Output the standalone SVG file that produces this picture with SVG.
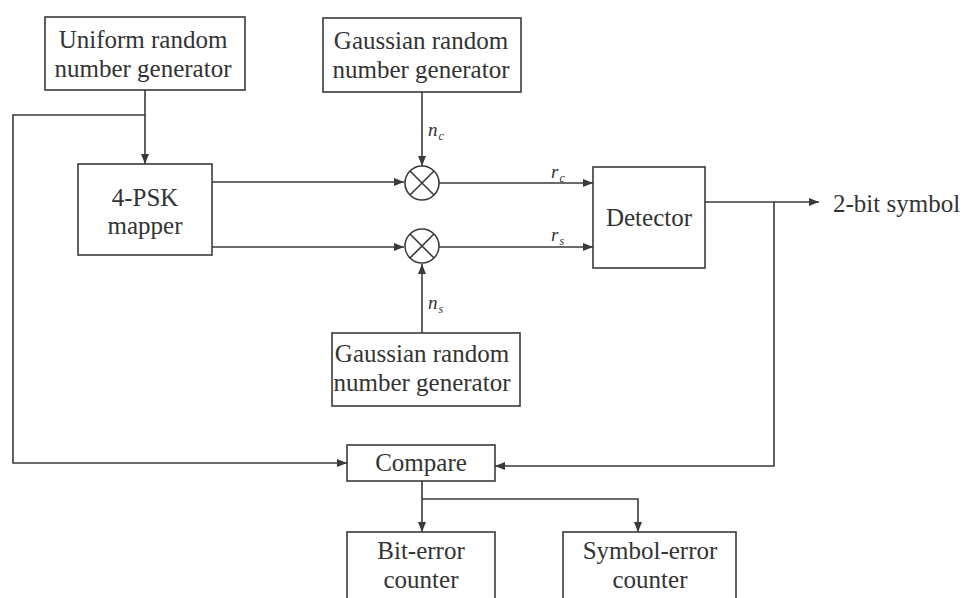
<svg xmlns="http://www.w3.org/2000/svg" width="965" height="598" viewBox="0 0 965 598">
  <style>
    .box { fill: #fff; stroke: #3a3a3a; stroke-width: 1.6; }
    .lbl { font-family: "Liberation Serif", "Times New Roman", serif; font-size: 25px; fill: #333; text-anchor: middle; }
    .sym { font-family: "Liberation Serif", "Times New Roman", serif; font-size: 19px; font-style: italic; fill: #333; }
    .sub { font-size: 12px; }
    .wire { fill: none; stroke: #3a3a3a; stroke-width: 1.6; }
    .arr { marker-end: url(#head); }
  </style>
  <defs>
    <marker id="head" viewBox="0 0 10 8" refX="10" refY="4" markerWidth="10" markerHeight="8" markerUnits="userSpaceOnUse" orient="auto">
      <path d="M0,0 L10,4 L0,8 z" fill="#3a3a3a"/>
    </marker>
  </defs>

  <rect width="965" height="598" fill="#fff"/>

  <!-- connectors -->
  <g id="connectors">
    <!-- uniform generator to mapper, with tap to compare -->
    <path class="wire arr" d="M145,90 V164"/>
    <path class="wire arr" d="M145,115 H13 V463 H347"/>
    <!-- mapper outputs to mixers -->
    <path class="wire arr" d="M212,182 H404"/>
    <path class="wire arr" d="M207,247 H404"/>
    <!-- noise inputs -->
    <path class="wire arr" d="M422,92 V166"/>
    <path class="wire arr" d="M422,333 V264"/>
    <!-- mixer outputs to detector -->
    <path class="wire arr" d="M439,183 H593"/>
    <path class="wire arr" d="M439,247 H593"/>
    <!-- detector output and feedback to compare -->
    <path class="wire arr" d="M705,202 H819"/>
    <path class="wire arr" d="M774,202 V466 H495"/>
    <!-- compare to counters -->
    <path class="wire arr" d="M422,481 V532"/>
    <path class="wire arr" d="M422,499 H638 V532"/>
  </g>

  <!-- signal labels -->
  <g id="signal-labels">
    <text class="sym" x="428" y="136">n<tspan class="sub" dx="1" dy="4">c</tspan></text>
    <text class="sym" x="428" y="309">n<tspan class="sub" dx="1" dy="4">s</tspan></text>
    <text class="sym" x="551" y="178">r<tspan class="sub" dx="1" dy="4">c</tspan></text>
    <text class="sym" x="551" y="241">r<tspan class="sub" dx="1" dy="4">s</tspan></text>
  </g>

  <g id="uniform-rng">
    <rect class="box" x="45" y="17" width="200" height="73"/>
    <text class="lbl" x="143" y="48">Uniform random</text>
    <text class="lbl" x="143" y="77">number generator</text>
  </g>

  <g id="gaussian-rng-c">
    <rect class="box" x="323" y="18" width="198" height="74"/>
    <text class="lbl" x="421" y="49">Gaussian random</text>
    <text class="lbl" x="421" y="78">number generator</text>
  </g>

  <g id="psk-mapper">
    <rect class="box" x="78" y="164" width="134" height="91"/>
    <text class="lbl" x="145" y="206">4-PSK</text>
    <text class="lbl" x="145" y="234">mapper</text>
  </g>

  <g id="mixer-c">
    <circle class="box" cx="422" cy="183" r="17"/>
    <path class="wire" d="M410,171 L434,195 M434,171 L410,195"/>
  </g>

  <g id="mixer-s">
    <circle class="box" cx="422" cy="246" r="17"/>
    <path class="wire" d="M410,234 L434,258 M434,234 L410,258"/>
  </g>

  <g id="detector">
    <rect class="box" x="593" y="167" width="112" height="101"/>
    <text class="lbl" x="649" y="226">Detector</text>
  </g>

  <g id="output">
    <text class="lbl" x="833" y="212" style="text-anchor:start">2-bit symbol</text>
  </g>

  <g id="gaussian-rng-s">
    <rect class="box" x="332" y="333" width="188" height="73"/>
    <text class="lbl" x="422" y="362">Gaussian random</text>
    <text class="lbl" x="422" y="391">number generator</text>
  </g>

  <g id="compare">
    <rect class="box" x="347" y="445" width="148" height="36"/>
    <text class="lbl" x="421" y="471">Compare</text>
  </g>

  <g id="bit-error-counter">
    <rect class="box" x="347" y="532" width="148" height="80"/>
    <text class="lbl" x="421" y="559">Bit-error</text>
    <text class="lbl" x="421" y="588">counter</text>
  </g>

  <g id="symbol-error-counter">
    <rect class="box" x="563" y="532" width="173" height="80"/>
    <text class="lbl" x="650" y="559">Symbol-error</text>
    <text class="lbl" x="650" y="588">counter</text>
  </g>
</svg>
